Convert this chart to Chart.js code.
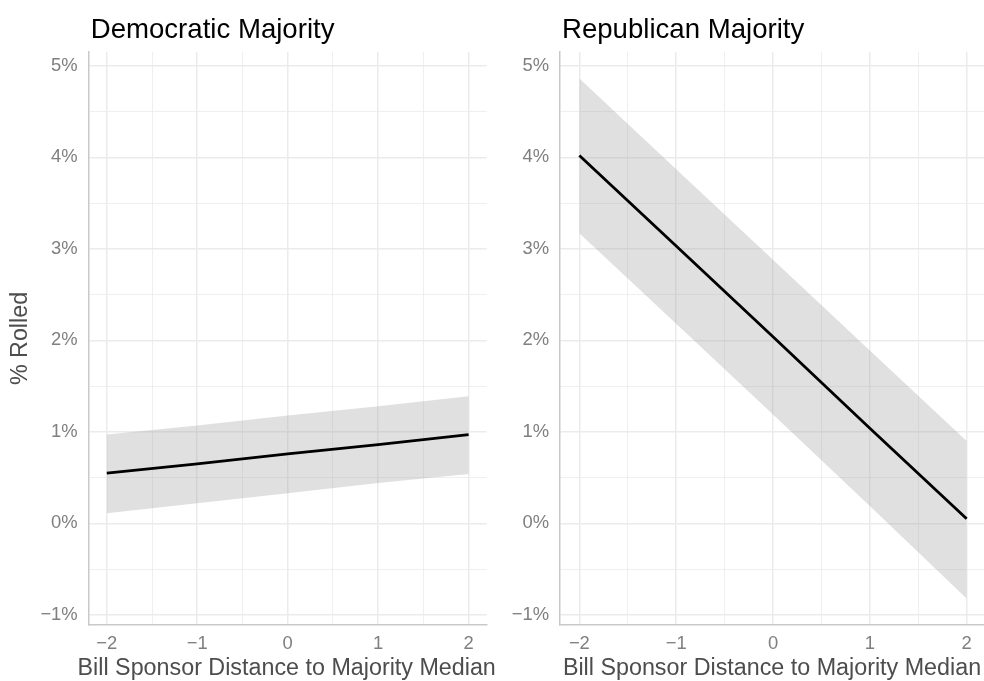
<!DOCTYPE html>
<html>
<head>
<meta charset="utf-8">
<script src="https://cdn.jsdelivr.net/npm/chart.js@4/dist/chart.umd.min.js"></script>
<style>
  html, body { margin: 0; padding: 0; background: #ffffff; overflow: hidden; }
  #wrap { position: relative; width: 984px; height: 681px; overflow: hidden; }
  .panel { position: absolute; top: 0; height: 681px; }
  #demPanel { left: 0; width: 506px; }
  #repPanel { left: 492px; width: 494px; }
</style>
</head>
<body>
<div id="wrap">
  <div class="panel" id="demPanel"><canvas id="demChart"></canvas></div>
  <div class="panel" id="repPanel"><canvas id="repChart"></canvas></div>
</div>
<script>
// Bill sponsor distance to the majority median (predictor values)
const xValues = [-2, -1, 0, 1, 2];

// Predicted share of bills rolled (%), with 95% interval bounds
const demFit   = [0.55, 0.65, 0.76, 0.86, 0.97];
const demLower = [0.11, 0.22, 0.33, 0.44, 0.54];
const demUpper = [0.97, 1.07, 1.18, 1.28, 1.39];

const repFit   = [4.02, 3.03, 2.04, 1.04, 0.05];
const repLower = [3.17, 2.18, 1.19, 0.19, -0.82];
const repUpper = [4.86, 3.87, 2.88, 1.89, 0.90];

// Axis breaks (major and minor)
const xTicks = [-2, -1.5, -1, -0.5, 0, 0.5, 1, 1.5, 2];
const yTicks = [-1, -0.5, 0, 0.5, 1, 1.5, 2, 2.5, 3, 3.5, 4, 4.5, 5];

const panelTitles = ['Democratic Majority', 'Republican Majority'];
const xTitle = 'Bill Sponsor Distance to Majority Median';
const yTitle = '% Rolled';

const FONT = "'Liberation Sans', Arial, Helvetica, sans-serif";
const GRID = '#ebebeb';
const TICK_COLOR = '#7f7f7f';
const TITLE_COLOR = '#4d4d4d';
const MINUS = '\u2212';

const isMajor = v => Math.abs(v - Math.round(v)) < 1e-9;
const fmtNum = v => (v < 0 ? MINUS : '') + Math.abs(v);

function pts(ys) { return xValues.map((x, i) => ({ x: x, y: ys[i] })); }

// Panel heading above the plot area and the x-axis title centred under it
// (drawn at full width so the long title may run past the panel edges)
const panelTextPlugin = {
  id: 'panelText',
  afterDraw(chart, args, opts) {
    const ctx = chart.ctx;
    const area = chart.chartArea;
    ctx.save();
    ctx.font = '27.6px ' + FONT;
    ctx.fillStyle = '#000000';
    ctx.textAlign = 'left';
    ctx.textBaseline = 'alphabetic';
    ctx.fillText(opts.title, area.left + 2, 37.5);

    ctx.font = '23.3px ' + FONT;
    ctx.fillStyle = TITLE_COLOR;
    ctx.textAlign = 'center';
    ctx.textBaseline = 'alphabetic';
    ctx.fillText(opts.xTitle, (area.left + area.right) / 2 - 1, 675);
    ctx.restore();
  }
};

function makeChart(canvasId, title, fit, lower, upper, yAxisWidth, rightPad, showYTitle) {
  return new Chart(document.getElementById(canvasId), {
    type: 'line',
    data: {
      datasets: [
        { label: 'lower', data: pts(lower), borderWidth: 0, pointRadius: 0, fill: false, order: 2 },
        { label: 'upper', data: pts(upper), borderWidth: 0, pointRadius: 0,
          fill: '-1', backgroundColor: 'rgba(153,153,153,0.3)', order: 1 },
        { label: 'fit', data: pts(fit), borderColor: '#000000', borderWidth: 2.8,
          pointRadius: 0, fill: false, order: 0 }
      ]
    },
    options: {
      responsive: true,
      maintainAspectRatio: false,
      animation: false,
      events: [],
      layout: { padding: { top: 52, right: rightPad, bottom: 0, left: 0 } },
      plugins: {
        legend: { display: false },
        tooltip: { enabled: false },
        panelText: { title: title, xTitle: xTitle }
      },
      scales: {
        x: {
          type: 'linear',
          min: -2.2,
          max: 2.2,
          afterBuildTicks: s => { s.ticks = xTicks.map(v => ({ value: v })); },
          afterFit: s => { s.height = 56; },
          grid: {
            drawTicks: false,
            color: GRID,
            lineWidth: c => (c.tick && isMajor(c.tick.value) ? 1.5 : 0.8)
          },
          border: { display: true, color: '#c9c9c9', width: 1.5 },
          ticks: {
            autoSkip: false,
            maxRotation: 0,
            padding: 8,
            color: TICK_COLOR,
            font: { family: FONT, size: 18.4 },
            callback: v => (isMajor(v) ? fmtNum(v) : '')
          },
          title: { display: false }
        },
        y: {
          type: 'linear',
          min: -1.11,
          max: 5.15,
          afterBuildTicks: s => { s.ticks = yTicks.map(v => ({ value: v })); },
          afterFit: s => { s.width = yAxisWidth; },
          grid: {
            drawTicks: false,
            color: GRID,
            lineWidth: c => (c.tick && isMajor(c.tick.value) ? 1.5 : 0.8)
          },
          border: { display: true, color: '#c9c9c9', width: 1.5 },
          ticks: {
            autoSkip: false,
            padding: 11,
            color: TICK_COLOR,
            font: { family: FONT, size: 18.4 },
            callback: v => (isMajor(v) ? fmtNum(v) + '%' : '')
          },
          title: {
            display: showYTitle,
            text: yTitle,
            color: TITLE_COLOR,
            font: { family: FONT, size: 23.3, lineHeight: 1.2 },
            padding: { top: 7, bottom: 0 }
          }
        }
      }
    },
    plugins: [panelTextPlugin]
  });
}

makeChart('demChart', panelTitles[0], demFit, demLower, demUpper, 88.7, 19.3, true);
makeChart('repChart', panelTitles[1], repFit, repLower, repUpper, 68, 0, false);
</script>
</body>
</html>
